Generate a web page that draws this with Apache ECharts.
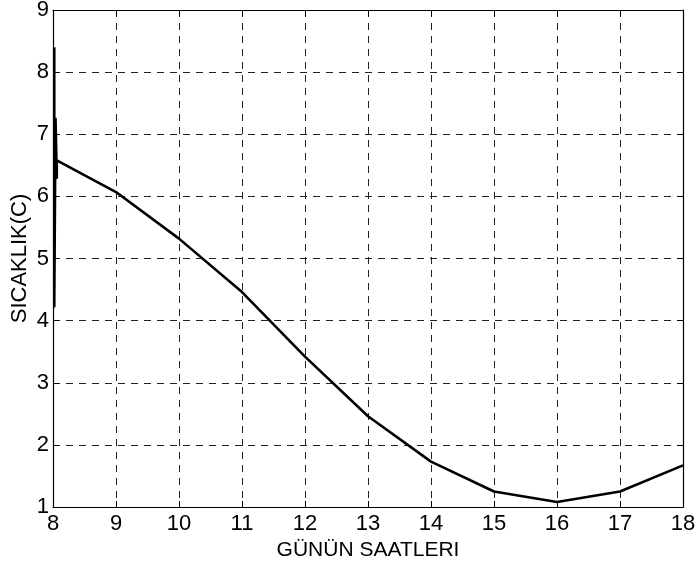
<!DOCTYPE html>
<html>
<head>
<meta charset="utf-8">
<script src="https://cdn.jsdelivr.net/npm/echarts@6/dist/echarts.min.js"></script>
<style>
  html, body { margin: 0; padding: 0; background: #fff; }
  #chart { width: 697px; height: 569px; }
</style>
</head>
<body>
<div id="chart"></div>
<script>
// Hours of the day and measured temperature (°C); the first few samples
// are the jittery readings recorded right at 08:00.
const hours = [8.02, 8.02, 8.04, 8.06, 8.06, 9, 10, 11, 12, 13, 14, 15, 16, 17, 18];
const temps = [8.4, 4.23, 7.25, 6.3, 6.58, 6.07, 5.32, 4.46, 3.42, 2.46, 1.73, 1.25, 1.08, 1.25, 1.67];

const xTicks = { min: 8, max: 18, step: 1 };
const yTicks = { min: 1, max: 9, step: 1 };

const xTitle = 'GÜNÜN SAATLERI';
const yTitle = 'SICAKLIK(C)';

const FONT = "'Liberation Sans', Arial, Helvetica, sans-serif";
const black = '#000';

const gridDash = { show: true, lineStyle: { color: '#222', width: 1, type: [7, 6] } };
const innerTick = { show: true, inside: true, length: 6, lineStyle: { color: black, width: 1 } };
const solidLine = { show: true, onZero: false, lineStyle: { color: black, width: 1.2 } };

const chart = echarts.init(document.getElementById('chart'), null, { renderer: 'canvas' });

chart.setOption({
  animation: false,
  backgroundColor: '#fff',
  grid: {
    left: 53, right: 14, top: 10, bottom: 62,
    show: false, containLabel: false, outerBoundsMode: 'none'
  },
  xAxis: [
    {
      type: 'value', position: 'bottom',
      min: xTicks.min, max: xTicks.max, interval: xTicks.step,
      name: xTitle, nameLocation: 'middle', nameGap: 33, nameMoveOverlap: false,
      nameTextStyle: { fontFamily: FONT, fontSize: 21, color: black },
      axisLine: solidLine, axisTick: innerTick,
      axisLabel: { fontFamily: FONT, fontSize: 22, color: black, margin: 6 },
      splitLine: gridDash
    },
    {
      type: 'value', position: 'top',
      min: xTicks.min, max: xTicks.max, interval: xTicks.step,
      axisLine: solidLine, axisTick: innerTick,
      axisLabel: { show: false }, splitLine: { show: false }
    }
  ],
  yAxis: [
    {
      type: 'value', position: 'left',
      min: yTicks.min, max: yTicks.max, interval: yTicks.step,
      name: yTitle, nameLocation: 'middle', nameGap: 22, nameRotate: 90,
      nameMoveOverlap: false,
      nameTextStyle: { fontFamily: FONT, fontSize: 22, color: black },
      axisLine: solidLine, axisTick: innerTick,
      axisLabel: { fontFamily: FONT, fontSize: 22, color: black, margin: 4 },
      splitLine: gridDash
    },
    {
      type: 'value', position: 'right',
      min: yTicks.min, max: yTicks.max, interval: yTicks.step,
      axisLine: solidLine, axisTick: innerTick,
      axisLabel: { show: false }, splitLine: { show: false }
    }
  ],
  series: [
    {
      type: 'line',
      xAxisIndex: 0, yAxisIndex: 0,
      data: hours.map((h, i) => [h, temps[i]]),
      showSymbol: false,
      symbol: 'none',
      lineStyle: { color: black, width: 2.6, join: 'round' },
      clip: true
    }
  ]
});
</script>
</body>
</html>
